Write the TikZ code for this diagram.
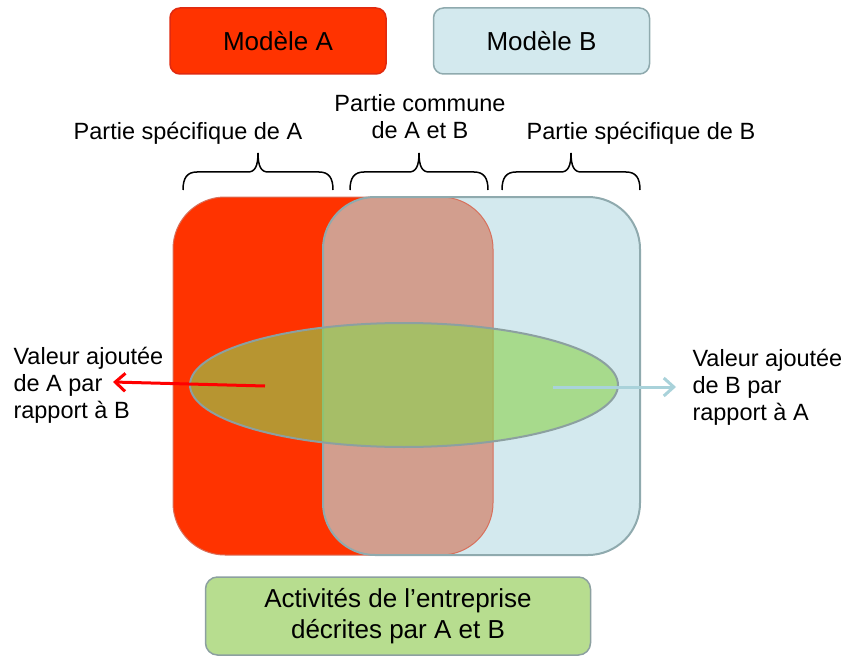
\documentclass[tikz,border=0pt]{standalone}
\usepackage{fontspec}
\setmainfont{Liberation Sans}
\usepackage{xcolor}
\usepackage{tikz}
\usetikzlibrary{arrows.meta}
\usetikzlibrary{positioning, shapes.geometric}

\definecolor{rougeA}{HTML}{FF3300}
\definecolor{rougeAbord}{HTML}{E02A10}
\definecolor{bleuB}{HTML}{D3E9EE}
\definecolor{bleuBbord}{HTML}{8FAAAE}
\definecolor{commun}{HTML}{D29E8E}
\definecolor{vertE}{RGB}{140,210,80}
\definecolor{vertEbord}{RGB}{140,160,160}
\definecolor{vertBoite}{HTML}{B7DD8F}
\definecolor{flecheB}{HTML}{A9D2DA}

\tikzset{
  modele/.style={rounded corners=10pt, minimum width=216pt, minimum height=66pt,
    line width=1.5pt, font=\fontsize{26}{30}\selectfont},
  accolade/.style={line width=1.5pt},
  grand/.style={rounded corners=52pt},
  fleche/.style={line width=3pt, -{Straight Barb[length=10pt, width=18pt, line width=3pt]}}
}

% accolade : gauche, milieu, droite
\newcommand{\dessinAccolade}[3]{%
  \draw[accolade] (#1,190) .. controls (#1,178) and (#1+4,172) .. (#1+14,172)
    -- (#2-10,172) .. controls (#2-3,172) and (#2,166) .. (#2,153)
    .. controls (#2,166) and (#2+3,172) .. (#2+10,172)
    -- (#3-14,172) .. controls (#3-4,172) and (#3,178) .. (#3,190);}

\begin{document}
\begin{tikzpicture}[x=1pt, y=-1pt, font=\fontsize{23.5}{27}\selectfont]
        \useasboundingbox (0,0) rectangle (849,658);

        % Modeles
        \node[modele, fill=rougeA, draw=rougeAbord] (ma) at (278,41) {Modèle A};
        \node[modele, fill=bleuB, draw=bleuBbord, right=46pt of ma] (mb) {Modèle B};

        % Accolades et parties
        \dessinAccolade{183}{258}{333}
        \dessinAccolade{350}{419}{488}
        \dessinAccolade{502}{571}{640}
        \node (pa) at (188,133) {Partie spécifique de A};
        \node[align=center] (pc) at (420,117) {Partie commune\\de A et B};
        \node (pb) at (641,133) {Partie spécifique de B};

        % Rectangles A et B
        \fill[grand, rougeA] (173,197) rectangle (493,555);
        \fill[grand, bleuB] (323,197) rectangle (640,555);
        \begin{scope}
            \clip[grand] (323,197) rectangle (640,555);
            \fill[grand, commun] (173,197) rectangle (493,555);
        \end{scope}
        \draw[grand, rougeAbord!40!commun, line width=1pt] (173,197) rectangle (493,555);
        \draw[grand, bleuBbord, line width=2pt] (323,197) rectangle (640,555);

        % Activites
        \node[ellipse, minimum width=428pt, minimum height=124pt, fill=vertE,
            fill opacity=0.62, draw=vertEbord, line width=2pt] (ell) at (404,385) {};

        % Fleches et etiquettes
        \coordinate (depA) at (265,386);
        \coordinate (finA) at (113,382);
        \coordinate (depB) at (553,387);
        \coordinate (finB) at (676,387);
        \draw[fleche, red] (depA) -- (finA);
        \draw[fleche, flecheB] (depB) -- (finB);
        \node[align=left, anchor=west] (va) at (10,385) {Valeur ajoutée\\de A par\\rapport à B};
        \node[align=left, anchor=west] (vb) at (689,387) {Valeur ajoutée\\de B par\\rapport à A};

        % Boite du bas
        \node[fill=vertBoite, draw=vertEbord, line width=1.5pt, rounded corners=12pt,
            minimum width=385pt, minimum height=78pt, align=center,
            font=\fontsize{26}{31}\selectfont] (act) at (398,616)
            {Activités de l’entreprise\\décrites par A et B};
    \end{tikzpicture}
\end{document}
